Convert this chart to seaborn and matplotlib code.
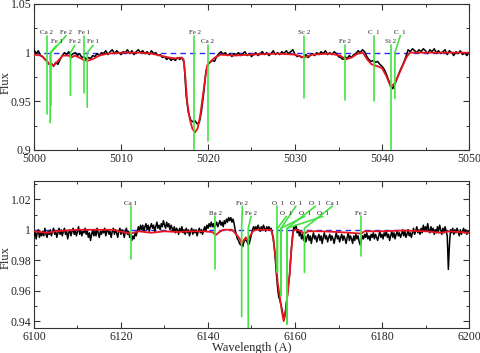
import numpy as np
import pandas as pd
import matplotlib
matplotlib.use('Agg')
import matplotlib.pyplot as plt
from matplotlib.ticker import MultipleLocator, FuncFormatter
import seaborn as sns

sns.set_style('ticks')
plt.rcParams['font.family'] = ['Liberation Serif', 'DejaVu Serif']

# ---- panel 1 : 5000-5050 A ----
# observed flux, one value every 0.25 A
obs_top = [
    1.003, 0.999, 1.002, 0.997,  0.996, 0.993, 0.991, 0.988,  0.989, 0.986, 0.990, 0.988,
    0.993, 0.997, 1.000, 0.998,  1.001, 0.997, 0.999, 1.000,  0.997, 0.999, 0.995, 0.996,
    0.993, 0.995, 0.994, 0.997,  0.996, 0.999, 0.997, 1.000,  0.999, 1.002, 0.998, 1.001,
    1.003, 0.999, 1.002, 1.000,  0.998, 1.001, 1.000, 1.003,  0.999, 1.002, 0.998, 1.001,
    1.003, 1.000, 1.002, 0.999,  1.001, 0.998, 1.002, 0.999,  1.000, 0.997, 0.998, 0.995,
    0.996, 0.993, 0.995, 0.992,  0.994, 0.992, 0.995, 0.993,  0.995, 0.990, 0.955, 0.938,
    0.931, 0.929, 0.930, 0.927,  0.928, 0.940, 0.958, 0.980,  0.988, 0.990, 0.992, 0.991,
    0.996, 0.999, 1.001, 0.998,  1.000, 0.997, 0.999, 0.996,  0.999, 0.998, 1.000, 0.997,
    0.999, 1.001, 0.997, 0.999,  0.996, 0.998, 1.000, 0.997,  0.999, 1.001, 0.998, 1.000,
    0.997, 0.999, 1.002, 0.998,  1.000, 0.998, 1.001, 0.999,  1.002, 0.999, 1.001, 1.003,
    0.998, 0.996, 0.997, 0.995,  0.996, 0.998, 0.995, 0.997,  0.999, 0.997, 1.000, 0.998,
    1.001, 0.999, 1.002, 0.998,  1.000, 0.998, 1.001, 0.999,  0.996, 0.995, 0.993, 0.996,
    0.994, 0.997, 0.995, 0.998,  0.999, 1.002, 1.000, 1.003,  1.001, 0.996, 0.993, 0.991,
    0.992, 0.990, 0.991, 0.988,  0.986, 0.983, 0.978, 0.972,  0.966, 0.963, 0.968, 0.974,
    0.980, 0.985, 0.990, 0.996,  1.003, 1.001, 1.004, 1.002,  1.000, 1.003, 1.001, 1.004,
    1.002, 0.999, 1.003, 1.001,  1.004, 1.000, 1.002, 0.999,  1.001, 1.003, 0.998, 1.002,
    1.000, 0.997, 1.001, 0.999,  1.002, 0.998, 1.000, 0.997,  1.000,
]
wave_top = np.linspace(5000, 5050, len(obs_top))

model_wave_top = [5000, 5000.8, 5001.3, 5001.8, 5002.3, 5002.8, 5003.3, 5004.0, 5004.3, 5004.7,
                  5005.2, 5005.8, 5006.3, 5006.9, 5007.5, 5008.5, 5010, 5012, 5013.5, 5014.5,
                  5015.5, 5016.3, 5016.9, 5017.2, 5017.4, 5017.6, 5017.9, 5018.2, 5018.5, 5018.8,
                  5019.1, 5019.4, 5019.7, 5019.9, 5020.3, 5020.8, 5021.5, 5023, 5025, 5028,
                  5030, 5031, 5032, 5034, 5035.2, 5035.8, 5036.5, 5037.2, 5037.8, 5038.3,
                  5038.8, 5039.5, 5040.0, 5040.5, 5041.0, 5041.4, 5041.8, 5042.3, 5042.8, 5043.2, 5050]
model_flux_top = [0.998, 0.997, 0.993, 0.988, 0.987, 0.992, 0.997, 0.997, 0.995, 0.997,
                  0.995, 0.992, 0.992, 0.994, 0.997, 0.999, 1.000, 1.000, 0.999, 0.997,
                  0.995, 0.994, 0.995, 0.993, 0.975, 0.950, 0.932, 0.922, 0.918, 0.922,
                  0.935, 0.955, 0.975, 0.987, 0.991, 0.995, 0.998, 0.997, 0.998, 0.999,
                  0.998, 0.995, 0.998, 0.999, 0.997, 0.993, 0.995, 0.999, 1.000, 0.993,
                  0.988, 0.986, 0.984, 0.976, 0.965, 0.968, 0.975, 0.985, 0.995, 1.000, 1.000]

top_labels = ['Ca 2', 'Fe 1', 'Fe 2', 'Fe 2', 'Fe 1', 'Fe 1', 'Fe 2', 'Ca 2',
              'Sc 2', 'Fe 2', 'C  1', 'Si 2', 'C  1']
top_waves = [5001.48, 5001.86, 5001.95, 5004.19, 5005.71, 5006.12, 5018.44, 5019.97,
             5031.02, 5035.71, 5039.06, 5041.02, 5041.48]
top_depths = [0.937, 0.928, 0.946, 0.956, 0.959, 0.944, 0.890, 0.909,
              0.953, 0.951, 0.950, 0.890, 0.953]
top_label_x = [5001.45, 5002.6, 5003.7, 5004.7, 5005.75, 5006.8, 5018.45, 5019.97,
               5031.0, 5035.8, 5039.05, 5041.0, 5042.1]
top_rows = [0, 1, 0, 1, 0, 1, 0, 1, 0, 1, 0, 1, 0]

# ---- panel 2 : 6100-6200 A ----
obs_bot = [
    0.996, 0.999, 0.994, 0.998,  1.000, 0.995, 0.998, 0.996,  0.999, 0.996, 1.001, 0.997,
    0.995, 0.999, 0.997, 1.000,  0.996, 0.999, 1.001, 0.997,  0.999, 0.995, 0.998, 1.001,
    0.997, 1.000, 0.996, 0.999,  1.001, 0.997, 0.999, 0.994,  0.998, 1.000, 0.996, 0.999,
    1.001, 0.997, 0.999, 0.996,  0.999, 1.002, 0.997, 1.000,  0.996, 0.999, 0.998, 1.001,
    0.997, 0.999, 0.995, 0.998,  0.993, 0.997, 1.000, 0.996,  0.999, 0.996, 1.001, 0.998,
    0.995, 0.999, 0.997, 1.000,  0.998, 1.001, 0.996, 0.999,  1.000, 0.997, 0.999, 0.995,
    0.999, 1.001, 0.997, 1.000,  0.998, 0.995, 0.999, 1.001,  0.997, 1.000, 0.998, 0.995,
    0.999, 1.001, 0.997, 0.999,  0.995, 0.997, 0.993, 0.996,  0.994, 0.998, 0.996, 0.999,
    1.002, 0.999, 1.003, 1.000,  1.003, 0.999, 1.002, 1.004,  1.000, 1.003, 0.999, 1.002,
    1.004, 1.001, 1.003, 0.999,  1.002, 1.005, 1.001, 1.003,  1.000, 1.004, 1.002, 1.006,
    1.003, 1.001, 1.005, 1.002,  1.004, 1.000, 1.003, 1.001,  0.999, 1.002, 0.998, 1.001,
    1.000, 0.997, 1.001, 0.999,  1.002, 0.998, 1.000, 0.997,  1.001, 0.998, 1.000, 0.996,
    0.999, 1.001, 0.997, 1.000,  0.998, 1.000, 0.996, 0.999,  1.001, 0.998, 1.000, 0.997,
    1.000, 1.002, 0.999, 1.003,  1.001, 1.004, 1.002, 1.005,  1.002, 1.004, 1.001, 1.003,
    1.005, 1.002, 1.004, 1.006,  1.003, 1.005, 1.002, 1.006,  1.004, 1.007, 1.005, 1.008,
    1.006, 1.008, 1.005, 1.007,  1.004, 1.000, 0.997, 0.994,  0.993, 0.991, 0.990, 0.991,
    0.989, 0.992, 0.994, 0.993,  0.992, 0.990, 0.991, 0.994,  0.997, 1.000, 1.002, 1.000,
    1.002, 1.000, 1.003, 1.001,  0.999, 1.002, 1.000, 1.003,  1.001, 0.999, 1.002, 1.000,
    1.002, 1.000, 1.001, 0.998,  0.994, 0.988, 0.980, 0.970,  0.962, 0.956, 0.954, 0.951,
    0.948, 0.944, 0.941, 0.945,  0.951, 0.957, 0.964, 0.970,  0.981, 0.990, 0.998, 1.002,
    1.001, 1.003, 0.998, 1.000,  0.996, 0.999, 0.994, 0.997,  0.993, 0.996, 0.992, 0.995,
    0.997, 0.993, 0.996, 0.991,  0.995, 0.998, 0.994, 0.996,  0.992, 0.995, 0.997, 0.993,
    0.996, 0.991, 0.995, 0.998,  0.994, 0.996, 0.992, 0.995,  0.997, 0.993, 0.996, 0.994,
    0.991, 0.995, 0.998, 0.994,  0.996, 0.992, 0.995, 0.997,  0.993, 0.996, 0.994, 0.991,
    0.995, 0.998, 0.993, 0.996,  0.994, 0.991, 0.996, 0.993,  0.997, 0.994, 0.996, 0.992,
    0.990, 0.993, 0.996, 0.994,  0.997, 0.995, 0.998, 0.994,  0.996, 0.993, 0.997, 0.995,
    0.998, 0.994, 0.997, 0.995,  0.993, 0.996, 0.999, 0.995,  0.997, 0.994, 0.998, 0.996,
    0.999, 0.995, 0.997, 0.993,  0.996, 0.999, 0.995, 0.998,  0.994, 0.997, 0.999, 0.996,
    0.998, 0.995, 0.997, 1.000,  0.996, 0.999, 0.995, 0.997,  1.000, 0.996, 0.998, 0.995,
    0.998, 1.001, 0.997, 0.999,  1.002, 0.998, 1.000, 0.997,  1.001, 0.998, 1.003, 0.999,
    1.002, 0.999, 1.004, 1.000,  0.998, 1.002, 0.999, 1.001,  0.997, 1.000, 0.998, 1.002,
    0.999, 1.003, 1.000, 0.997,  1.001, 0.998, 1.002, 0.999,  0.996, 0.974, 0.990, 1.000,
    0.998, 1.001, 0.997, 1.000,  0.998, 1.001, 0.999, 0.996,  1.000, 0.997, 0.999, 1.001,
    0.998, 1.000, 0.997, 0.999,  0.998,
]
wave_bot = np.linspace(6100, 6200, len(obs_bot))

model_wave_bot = [6100, 6103, 6105, 6110, 6118, 6122.2, 6124, 6127, 6130, 6133,
                  6136, 6139, 6141, 6141.8, 6142.6, 6143.5, 6145.5, 6146.5, 6147.3, 6147.7,
                  6148.2, 6148.7, 6149.2, 6149.7, 6150.3, 6151, 6154.5, 6155.0, 6155.5, 6156.0,
                  6156.5, 6157.0, 6157.4, 6157.8, 6158.3, 6158.8, 6159.2, 6159.6, 6160, 6161,
                  6162.2, 6163, 6166, 6170, 6175.2, 6176, 6180, 6185, 6190, 6193.5, 6195.5, 6200]
model_flux_bot = [0.999, 0.998, 0.999, 1.000, 1.000, 0.9975, 0.999, 0.998, 0.999, 0.9985,
                  0.999, 0.999, 0.9985, 0.9965, 0.9985, 1.000, 1.000, 0.997, 0.994, 0.991,
                  0.993, 0.995, 0.993, 0.996, 0.999, 1.000, 1.000, 0.995, 0.982, 0.966,
                  0.956, 0.946, 0.940, 0.946, 0.958, 0.972, 0.988, 0.999, 1.000, 0.9995,
                  0.9975, 0.999, 0.999, 0.9985, 0.9975, 0.999, 0.999, 0.9995, 0.999, 0.998, 0.999, 0.998]

bot_labels = ['Ca 1', 'Ba 2', 'Fe 2', 'Fe 2', 'O  1', 'O  1', 'O  1', 'O  1', 'O  1', 'O  1',
              'Ca 1', 'Fe 2']
bot_waves = [6122.22, 6141.71, 6147.74, 6149.25, 6155.97, 6155.99, 6156.78, 6156.80, 6158.19,
             6158.17, 6162.17, 6175.2]
bot_depths = [0.981, 0.974, 0.943, 0.930, 0.972, 0.972, 0.957, 0.957, 0.938, 0.938, 0.972, 0.983]
bot_label_x = [6122.2, 6141.7, 6147.9, 6149.9, 6156.0, 6158.0, 6160.2, 6162.2, 6164.7, 6166.4,
               6168.6, 6175.2]
bot_rows = [0, 1, 0, 1, 0, 1, 0, 1, 0, 1, 0, 1]

GREEN = '#45e045'
fmt = FuncFormatter(lambda v, p: '%g' % round(v, 4))


def draw_panel(ax, wave, obs, mwave, mflux, labels, waves, depths, lx, rows,
               join, line_top, text_y, fsize):
    ax.axhline(1.0, color='#2b2bff', ls=(0, (4, 3)), lw=1.0, zorder=2)
    sns.lineplot(x=wave, y=obs, ax=ax, color='black', lw=1.1, sort=False,
                 estimator=None, zorder=3)
    sns.lineplot(x=mwave, y=mflux, ax=ax, color='#e8141e', lw=1.3, sort=False,
                 estimator=None, zorder=4)
    for lab, w, d, x, r in zip(labels, waves, depths, lx, rows):
        if abs(x - w) < 0.15:
            xs, ys = [w, w], [d, line_top[r]]
        else:
            xs, ys = [w, w, x], [d, join, line_top[r]]
        ax.plot(xs, ys, color=GREEN, lw=1.2, zorder=5)
        ax.text(x, text_y[r], lab, fontsize=fsize, ha='center', va='bottom', zorder=6)


fig = plt.figure(figsize=(4.8, 3.53), dpi=100)
ax1 = fig.add_axes([0.0708, 0.5751, 0.9063, 0.4136])
ax2 = fig.add_axes([0.0708, 0.0708, 0.9063, 0.4164])

draw_panel(ax1, wave_top, obs_top, model_wave_top, model_flux_top, top_labels, top_waves,
           top_depths, top_label_x, top_rows, 1.0, [1.0175, 1.0075], [1.0185, 1.0085], 5)
draw_panel(ax2, wave_bot, obs_bot, model_wave_bot, model_flux_bot, bot_labels, bot_waves,
           bot_depths, bot_label_x, bot_rows, 1.001, [1.0155, 1.0088], [1.0158, 1.0092], 5)

ax1.set_xlim(5000, 5050)
ax1.set_ylim(0.9, 1.05)
ax1.xaxis.set_major_locator(MultipleLocator(10))
ax1.xaxis.set_minor_locator(MultipleLocator(5))
ax1.yaxis.set_major_locator(MultipleLocator(0.05))
ax1.yaxis.set_minor_locator(MultipleLocator(0.025))

ax2.set_xlim(6100, 6200)
ax2.set_ylim(0.9355, 1.032)
ax2.xaxis.set_major_locator(MultipleLocator(20))
ax2.xaxis.set_minor_locator(MultipleLocator(10))
ax2.yaxis.set_major_locator(MultipleLocator(0.02))
ax2.yaxis.set_minor_locator(MultipleLocator(0.01))

for ax, ly in ((ax1, 0.46), (ax2, 0.48)):
    ax.xaxis.set_major_formatter(fmt)
    ax.yaxis.set_major_formatter(fmt)
    ax.tick_params(which='both', direction='in', top=True, right=True, color='#333333',
                   labelsize=8.5, pad=2)
    ax.tick_params(which='major', length=4, width=0.8)
    ax.tick_params(which='minor', length=2, width=0.7)
    for s in ax.spines.values():
        s.set_linewidth(0.8)
        s.set_color('#333333')
    ax.set_ylabel('Flux', fontsize=9)
    ax.yaxis.set_label_coords(-0.052, ly)
    ax.set_xlabel('')

ax2.set_xlabel('Wavelength (A)', fontsize=9)
ax2.xaxis.set_label_coords(0.5, -0.092)

fig.savefig('out.png', dpi=100)
